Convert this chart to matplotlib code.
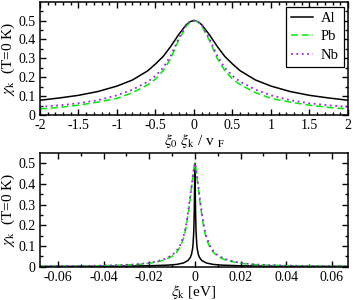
import matplotlib
matplotlib.use("Agg")
import matplotlib.pyplot as plt
from matplotlib.ticker import MultipleLocator, FuncFormatter

# ---- datos ----
# panel superior: eje x = xi0 xik / vF
x_sup = [-2.0, -1.75, -1.5, -1.25, -1.0, -0.8, -0.6, -0.5, -0.4, -0.3, -0.2, -0.1, -0.05, 0.0,
         0.05, 0.1, 0.2, 0.3, 0.4, 0.5, 0.6, 0.8, 1.0, 1.25, 1.5, 1.75, 2.0]
al_sup = [0.078, 0.090, 0.104, 0.124, 0.153, 0.185, 0.234, 0.270, 0.310, 0.364, 0.425, 0.478, 0.494, 0.500,
          0.494, 0.478, 0.425, 0.364, 0.310, 0.270, 0.234, 0.185, 0.153, 0.124, 0.104, 0.090, 0.078]
pb_sup = [0.032, 0.040, 0.052, 0.068, 0.088, 0.118, 0.160, 0.190, 0.235, 0.300, 0.395, 0.470, 0.492, 0.500,
          0.492, 0.470, 0.395, 0.300, 0.235, 0.190, 0.160, 0.118, 0.088, 0.068, 0.052, 0.040, 0.032]
nb_sup = [0.043, 0.051, 0.062, 0.078, 0.104, 0.134, 0.176, 0.207, 0.250, 0.315, 0.405, 0.477, 0.495, 0.500,
          0.495, 0.477, 0.405, 0.315, 0.250, 0.207, 0.176, 0.134, 0.104, 0.078, 0.062, 0.051, 0.043]

# panel inferior: eje x = xik en eV
x_al = [-0.068, -0.05, -0.03, -0.02, -0.012, -0.008, -0.005, -0.003, -0.002, -0.0015, -0.001, -0.0008,
        -0.0005, -0.0003, -0.0002, -0.0001, 0.0,
        0.0001, 0.0002, 0.0003, 0.0005, 0.0008, 0.001, 0.0015, 0.002, 0.003, 0.005, 0.008, 0.012,
        0.02, 0.03, 0.05, 0.068]
al_inf = [0.0013, 0.0018, 0.003, 0.0045, 0.0075, 0.011, 0.018, 0.030, 0.045, 0.059, 0.088, 0.11,
          0.17, 0.26, 0.33, 0.43, 0.50,
          0.43, 0.33, 0.26, 0.17, 0.11, 0.088, 0.059, 0.045, 0.030, 0.018, 0.011, 0.0075,
          0.0045, 0.003, 0.0018, 0.0013]

x_pbnb = [-0.068, -0.05, -0.04, -0.03, -0.025, -0.02, -0.016, -0.013, -0.01, -0.008, -0.0065, -0.005,
          -0.004, -0.003, -0.002, -0.0015, -0.001, -0.0005, 0.0,
          0.0005, 0.001, 0.0015, 0.002, 0.003, 0.004, 0.005, 0.0065, 0.008, 0.01, 0.013, 0.016,
          0.02, 0.025, 0.03, 0.04, 0.05, 0.068]
pb_inf = [0.002, 0.003, 0.005, 0.008, 0.011, 0.016, 0.025, 0.034, 0.050, 0.070, 0.095, 0.135,
          0.18, 0.25, 0.33, 0.38, 0.42, 0.47, 0.50,
          0.47, 0.42, 0.38, 0.33, 0.25, 0.18, 0.135, 0.095, 0.070, 0.050, 0.034, 0.025,
          0.016, 0.011, 0.008, 0.005, 0.003, 0.002]
nb_inf = [0.002, 0.0035, 0.0055, 0.009, 0.012, 0.018, 0.028, 0.038, 0.055, 0.077, 0.103, 0.147,
          0.195, 0.265, 0.345, 0.39, 0.43, 0.475, 0.50,
          0.475, 0.43, 0.39, 0.345, 0.265, 0.195, 0.147, 0.103, 0.077, 0.055, 0.038, 0.028,
          0.018, 0.012, 0.009, 0.0055, 0.0035, 0.002]

etiquetas = ["Al", "Pb", "Nb"]

plt.rcParams['font.family'] = ['Liberation Serif', 'DejaVu Serif']
plt.rcParams['mathtext.fontset'] = 'stix'
plt.rcParams['axes.unicode_minus'] = False
plt.rcParams['font.size'] = 10

verde = '#00f000'
morado = '#a020f0'


def formato(v, pos):
    # quito los ceros sobrantes como en xmgrace
    s = ('%.3f' % v).rstrip('0').rstrip('.')
    if s == '-0':
        s = '0'
    return s


def ejes(ax):
    ax.tick_params(which='both', direction='in', top=True, right=True, labelsize=10, pad=3)
    ax.tick_params(which='major', length=4, width=1)
    ax.tick_params(which='minor', length=2, width=1)
    for lado in ax.spines.values():
        lado.set_linewidth(1.1)
    ax.xaxis.set_major_formatter(FuncFormatter(formato))
    ax.yaxis.set_major_formatter(FuncFormatter(formato))


fig = plt.figure(figsize=(3.53, 3.0), dpi=100)

# panel de arriba
ax1 = fig.add_axes([0.1133, 0.6167, 0.8725, 0.3767])
ax1.plot(x_sup, al_sup, color='black', lw=1.1, label=etiquetas[0])
ax1.plot(x_sup, pb_sup, color=verde, lw=1.1, ls=(0, (4.5, 2.5)), label=etiquetas[1])
ax1.plot(x_sup, nb_sup, color=morado, lw=1.3, ls=(0, (1, 2)), label=etiquetas[2])
ax1.set_xlim(-2, 2)
ax1.set_ylim(0, 0.598)
ax1.xaxis.set_major_locator(MultipleLocator(0.5))
ax1.xaxis.set_minor_locator(MultipleLocator(0.1))
ax1.set_yticks([0, 0.1, 0.2, 0.3, 0.4, 0.5])
ax1.yaxis.set_minor_locator(MultipleLocator(0.05))
ejes(ax1)
ax1.set_xlabel(r'$\xi_0\ \xi_{\rm k}$ / v $_{\rm F}$', fontsize=11, labelpad=0)
ax1.set_ylabel(r'$\chi_{\rm k}$  (T=0 K)', fontsize=11, labelpad=1)
ley = ax1.legend(loc='upper right', bbox_to_anchor=(0.986, 0.958), fontsize=10.5, frameon=True,
                 fancybox=False, edgecolor='black', framealpha=1, handlelength=1.5,
                 handletextpad=0.5, borderpad=0.35, labelspacing=0.35, borderaxespad=0)
ley.get_frame().set_linewidth(0.9)

# panel de abajo
ax2 = fig.add_axes([0.1133, 0.111, 0.8725, 0.378])
ax2.plot(x_al, al_inf, color='black', lw=1.1)
ax2.plot(x_pbnb, pb_inf, color=verde, lw=1.1, ls=(0, (4.5, 2.5)))
ax2.plot(x_pbnb, nb_inf, color=morado, lw=1.3, ls=(0, (1, 2)))
ax2.set_xlim(-0.0678, 0.067)
ax2.set_ylim(0, 0.548)
ax2.xaxis.set_major_locator(MultipleLocator(0.02))
ax2.xaxis.set_minor_locator(MultipleLocator(0.01))
ax2.set_yticks([0, 0.1, 0.2, 0.3, 0.4, 0.5])
ax2.yaxis.set_minor_locator(MultipleLocator(0.05))
ejes(ax2)
ax2.set_xlabel(r'$\xi_{\rm k}$ [eV]', fontsize=11, labelpad=-0.6)
ax2.set_ylabel(r'$\chi_{\rm k}$  (T=0 K)', fontsize=11, labelpad=1)

fig.savefig('out.png', dpi=100)
